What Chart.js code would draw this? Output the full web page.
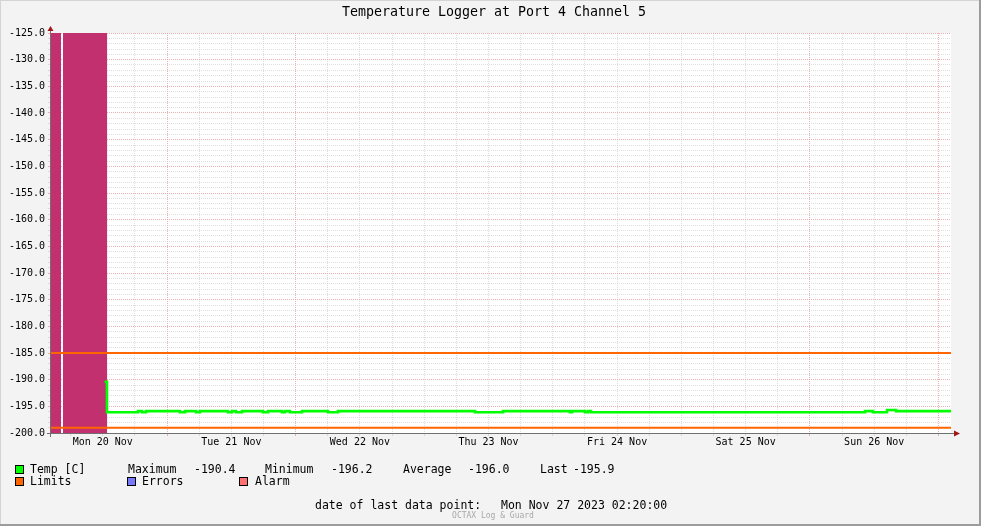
<!DOCTYPE html>
<html><head><meta charset="utf-8">
<script src="https://cdn.jsdelivr.net/npm/chart.js@4.4.1/dist/chart.umd.min.js"></script>
<style>html,body{margin:0;padding:0;background:#f3f3f3;overflow:hidden}#wrap{position:relative;width:981px;height:526px}</style>
</head><body><div id="wrap"><canvas id="c" width="981" height="526"></canvas></div>
<script>
const chartTitle = 'Temperature Logger at Port 4 Channel 5';
const dayLabels = ['Mon 20 Nov','Tue 21 Nov','Wed 22 Nov','Thu 23 Nov','Fri 24 Nov','Sat 25 Nov','Sun 26 Nov','Mon 27 Nov'];
const startHourOfDay = 2 + 20/60;   // first point: Mon 20 Nov 02:20
const spanHours = 168;
const tempHours  = [10.0, 10.45, 16.24, 16.99, 17.73, 24.08, 25.01, 27.07, 27.81, 33.04, 33.79, 34.53, 35.65, 39.57, 40.51, 43.12, 43.68, 44.61, 46.85, 51.71, 53.57, 79.15, 84.37, 96.88, 97.26, 99.68, 100.24, 100.80, 151.95, 153.44, 156.06, 157.74, 168];
const tempValues = [-190.4, -196.1, -195.9, -196.1, -195.9, -196.1, -195.9, -196.1, -195.9, -196.1, -195.9, -196.1, -195.9, -196.1, -195.9, -196.1, -195.9, -196.1, -195.9, -196.1, -195.9, -196.1, -195.9, -196.1, -195.9, -196.1, -195.9, -196.1, -195.9, -196.1, -195.7, -195.9, -195.9];
const limitValues = [-185, -199];
const alarmStarts = [0, 2.24];
const alarmEnds   = [1.87, 10.5];
const yMin = -200, yMax = -125;
const statNames  = ['Maximum', 'Minimum', 'Average', 'Last'];
const statValues = ['-190.4', '-196.2', '-196.0', '-195.9'];
const legendNames = ['Temp [C]', 'Limits', 'Errors', 'Alarm'];
const lastPointLabel = 'date of last data point:';
const lastPointText = 'Mon Nov 27 2023 02:20:00';
const footerText = 'OCTAX Log & Guard';

const C_GREEN = '#00ff00', C_ORANGE = '#ff6600', C_BLUE = '#7878ff', C_RED = '#ff7070', C_ALARM = 'rgb(194,48,112)';
const MONO = '"DejaVu Sans Mono", monospace';
const GRID_MAJOR = 'rgba(228,150,150,0.75)', GRID_MINOR = 'rgba(200,200,200,0.6)';

const datasets = [];
datasets.push({label: legendNames[0], data: tempHours.map((h, i) => ({x: h, y: tempValues[i]})),
  borderColor: C_GREEN, borderWidth: 2.6, pointRadius: 0, stepped: true, fill: false});
limitValues.forEach(v => datasets.push({label: legendNames[1], data: [{x: 0, y: v}, {x: spanHours, y: v}],
  borderColor: C_ORANGE, borderWidth: 2, pointRadius: 0, fill: false}));
alarmStarts.forEach((s, i) => datasets.push({label: legendNames[3], data: [{x: s, y: yMax}, {x: alarmEnds[i], y: yMax}],
  borderWidth: 0, borderColor: 'rgba(0,0,0,0)', backgroundColor: C_ALARM, pointRadius: 0, fill: 'start'}));

const xTickValues = [];
for (let h = (6 - startHourOfDay % 6) % 6; h <= spanHours; h += 6) xTickValues.push(h);
const yTickValues = [];
for (let v = yMin; v <= yMax; v += 1) yTickValues.push(v);
const hourOf = v => Math.round(((v + startHourOfDay) % 24 + 24) % 24);

const framePlugin = {
  id: 'frame',
  beforeDraw(chart) {
    const c = chart.ctx, a = chart.chartArea;
    c.save();
    c.fillStyle = '#f3f3f3'; c.fillRect(0, 0, chart.width, chart.height);
    c.fillStyle = '#d4d4d4'; c.fillRect(0, 0, chart.width, 1); c.fillRect(0, 0, 1, chart.height);
    c.fillStyle = '#9c9c9c'; c.fillRect(chart.width - 2, 0, 2, chart.height); c.fillRect(0, chart.height - 2, chart.width, 2);
    c.fillStyle = '#ffffff'; c.fillRect(a.left, a.top, a.right - a.left, a.bottom - a.top);
    c.restore();
  },
  afterDraw(chart) {
    const c = chart.ctx, a = chart.chartArea;
    c.save();
    c.strokeStyle = '#707070'; c.lineWidth = 1;
    c.beginPath(); c.moveTo(a.left - 0.5, a.bottom + 4); c.lineTo(a.left - 0.5, a.top - 2); c.stroke();
    c.beginPath(); c.moveTo(a.left - 4, a.bottom + 0.5); c.lineTo(a.right + 4, a.bottom + 0.5); c.stroke();
    c.fillStyle = '#a01818';
    c.beginPath(); c.moveTo(a.left - 3.5, a.top - 2); c.lineTo(a.left + 2.5, a.top - 2); c.lineTo(a.left - 0.5, a.top - 7); c.closePath(); c.fill();
    c.beginPath(); c.moveTo(a.right + 3, a.bottom - 2.5); c.lineTo(a.right + 3, a.bottom + 3.5); c.lineTo(a.right + 9, a.bottom + 0.5); c.closePath(); c.fill();
    c.fillStyle = '#000'; c.textBaseline = 'middle';
    c.font = '13.3px ' + MONO; c.textAlign = 'center';
    c.fillText(chartTitle, 494, 13);
    c.font = '11.5px ' + MONO; c.textAlign = 'left';
    const box = (x, y, col) => { c.fillStyle = col; c.fillRect(x, y, 9, 9); c.strokeStyle = '#000'; c.strokeRect(x + 0.5, y + 0.5, 8, 8); };
    box(15, 465, C_GREEN); box(15, 477, C_ORANGE); box(127, 477, C_BLUE); box(239, 477, C_RED);
    c.fillStyle = '#000';
    c.fillText(legendNames[0], 30, 470);
    const sx = [128, 265, 403, 540], vx = [194, 331, 468, 573];
    statNames.forEach((n, i) => { c.fillText(n, sx[i], 470); c.fillText(statValues[i], vx[i], 470); });
    c.fillText(legendNames[1], 30, 482);
    c.fillText(legendNames[2], 142, 482);
    c.fillText(legendNames[3], 255, 482);
    c.fillText(lastPointLabel, 315, 506);
    c.fillText(lastPointText, 501, 506);
    c.font = '8px ' + MONO; c.fillStyle = '#a8a8a8'; c.textAlign = 'center';
    c.fillText(footerText, 493, 516);
    c.restore();
  }
};

new Chart(document.getElementById('c'), {
  type: 'line',
  data: {datasets},
  options: {
    responsive: false, animation: false, devicePixelRatio: 1,
    layout: {padding: {left: 0, top: 33, right: 30, bottom: 73}},
    plugins: {legend: {display: false}, title: {display: false}, tooltip: {enabled: false}},
    elements: {line: {tension: 0}},
    scales: {
      x: {
        type: 'linear', min: 0, max: spanHours,
        afterBuildTicks: s => { s.ticks = xTickValues.map(v => ({value: v})); },
        afterFit: s => { s.height = 20; },
        grid: {color: ctx => (ctx.tick && hourOf(ctx.tick.value) === 0) ? GRID_MAJOR : GRID_MINOR,
               lineWidth: 1, drawTicks: true, tickLength: 3},
        border: {display: false, dash: [1, 1]},
        ticks: {autoSkip: false, maxRotation: 0, padding: 0, color: '#000', font: {family: MONO, size: 10},
                callback: v => hourOf(v) === 12 ? dayLabels[Math.floor((v + startHourOfDay) / 24)] : ''}
      },
      y: {
        type: 'linear', min: yMin, max: yMax,
        afterBuildTicks: s => { s.ticks = yTickValues.map(v => ({value: v})); },
        afterFit: s => { s.width = 51; },
        grid: {color: ctx => (ctx.tick && Math.round(ctx.tick.value) % 5 === 0) ? GRID_MAJOR : GRID_MINOR,
               lineWidth: 1, drawTicks: true, tickLength: 3},
        border: {display: false, dash: [1, 1]},
        ticks: {autoSkip: false, padding: 3, color: '#000', font: {family: MONO, size: 10},
                callback: v => Math.round(v) % 5 === 0 ? v.toFixed(1) : ''}
      }
    }
  },
  plugins: [framePlugin]
});
</script>
</body></html>
